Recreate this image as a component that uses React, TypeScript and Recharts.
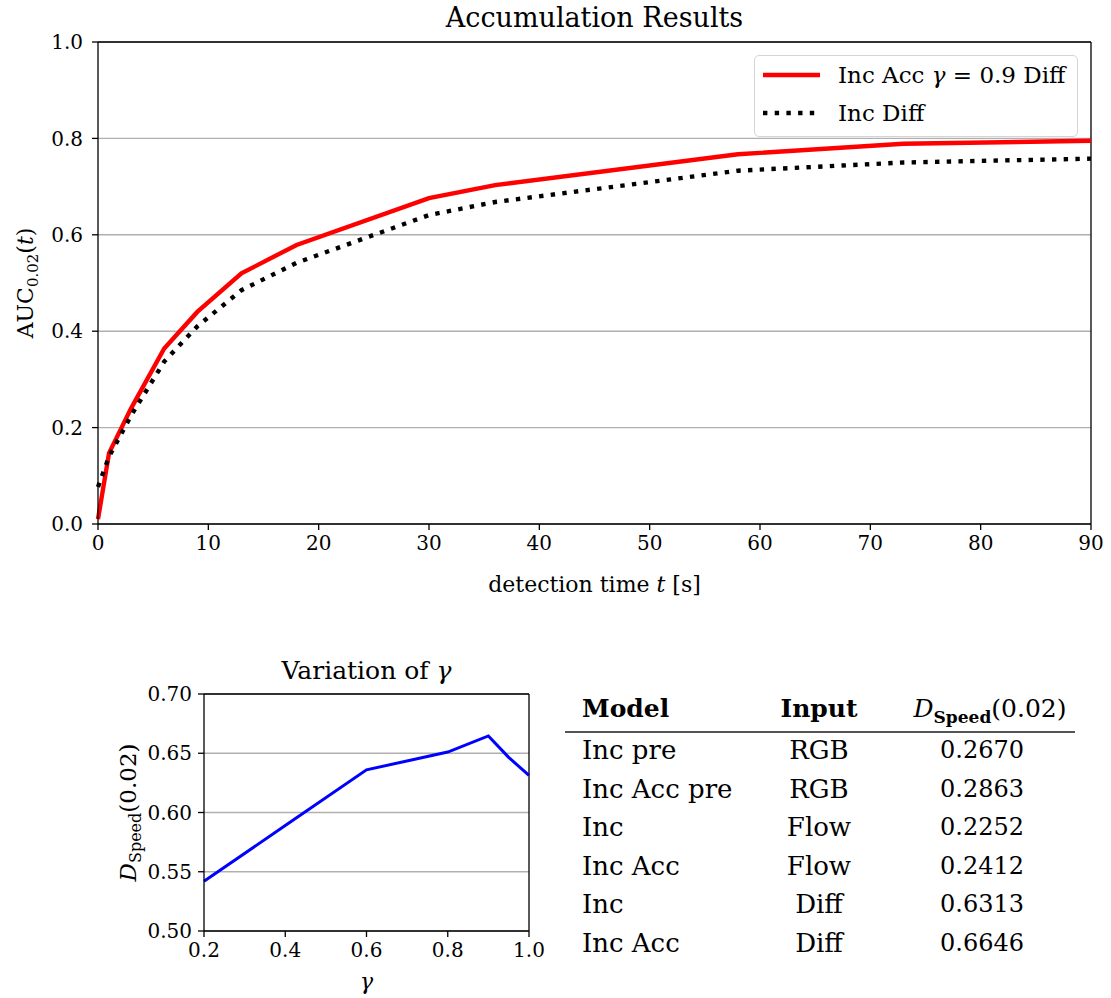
import React from 'react';
import {
  LineChart,
  Line,
  XAxis,
  YAxis,
  CartesianGrid,
  ReferenceLine,
  Legend,
} from 'recharts';

// ---- data: accumulation over detection time ----
const detectionTimes = [0, 1, 3, 6, 9, 13, 18, 30, 36, 58, 73, 90];
const incAccDiffAuc = [0.01, 0.147, 0.24, 0.364, 0.44, 0.52, 0.579, 0.676, 0.703, 0.767, 0.789, 0.795];
const incDiffAuc = [0.077, 0.14, 0.225, 0.337, 0.41, 0.485, 0.542, 0.641, 0.668, 0.733, 0.75, 0.758];
const aucTicks = [0, 0.2, 0.4, 0.6, 0.8, 1.0];
const timeTicks = [0, 10, 20, 30, 40, 50, 60, 70, 80, 90];

// ---- data: variation of gamma ----
const gammas = [0.2, 0.4, 0.6, 0.8, 0.9, 0.95, 1.0];
const dSpeedByGamma = [0.542, 0.589, 0.636, 0.651, 0.6646, 0.6465, 0.6313];
const gammaTicks = [0.2, 0.4, 0.6, 0.8, 1.0];
const dSpeedTicks = [0.5, 0.55, 0.6, 0.65, 0.7];

// ---- data: results table ----
const tableModels = ['Inc pre', 'Inc Acc pre', 'Inc', 'Inc Acc', 'Inc', 'Inc Acc'];
const tableInputs = ['RGB', 'RGB', 'Flow', 'Flow', 'Diff', 'Diff'];
const tableScores = ['0.2670', '0.2863', '0.2252', '0.2412', '0.6313', '0.6646'];

const accData = detectionTimes.map((t, i) => ({ t, incAcc: incAccDiffAuc[i], inc: incDiffAuc[i] }));
const gammaData = gammas.map((g, i) => ({ g, d: dSpeedByGamma[i] }));

const FONT = '"DejaVu Serif", serif';
const TICK_FS = 20;
const axisLine = { stroke: '#000', strokeWidth: 1.3 };
const tickLine = { stroke: '#000', strokeWidth: 1.3 };
const tickStyle = { fill: '#000', fontSize: TICK_FS, fontFamily: FONT };

const seriesStyle: Record<string, { dash?: string; label: React.ReactNode }> = {
  incAcc: {
    label: (
      <>
        Inc Acc <i>γ</i> = 0.9 Diff
      </>
    ),
  },
  inc: { dash: '4.4 7.3', label: <>Inc Diff</> },
};

function AccLegend(props: any) {
  const payload = props.payload || [];
  return (
    <div
      style={{
        width: 322,
        height: 80,
        border: '1.5px solid #d4d4d4',
        borderRadius: 5,
        background: 'rgba(255,255,255,0.85)',
        position: 'relative',
        fontFamily: FONT,
        fontSize: 23,
        color: '#000',
      }}
    >
      {payload.map((p: any, i: number) => {
        const st = seriesStyle[p.dataKey] || { label: p.value };
        return (
          <div key={i} style={{ position: 'absolute', left: 0, top: 4 + i * 38, height: 32, width: 320 }}>
            <svg width={66} height={32} style={{ position: 'absolute', left: 0, top: 0 }}>
              <line x1={8} x2={65} y1={15} y2={15} stroke={p.color} strokeWidth={4.4} strokeDasharray={st.dash} />
            </svg>
            <div style={{ position: 'absolute', left: 83, top: 1, whiteSpace: 'nowrap', lineHeight: '28px' }}>{st.label}</div>
          </div>
        );
      })}
    </div>
  );
}

function TimeLabel(props: any) {
  const vb = props.viewBox;
  return (
    <text x={vb.x + vb.width / 2} y={vb.y + 68} textAnchor="middle" fontFamily={FONT} fontSize={22} fill="#000">
      detection time <tspan fontStyle="italic">t</tspan> [s]
    </text>
  );
}

function AucLabel(props: any) {
  const vb = props.viewBox;
  const cx = 33;
  const cy = vb.y + vb.height / 2;
  return (
    <text x={cx} y={cy} transform={`rotate(-90, ${cx}, ${cy})`} textAnchor="middle" fontFamily={FONT} fontSize={22} fill="#000">
      AUC<tspan dy={5} fontSize={15}>0.02</tspan>
      <tspan dy={-5}>(</tspan>
      <tspan fontStyle="italic">t</tspan>)
    </text>
  );
}

function GammaLabel(props: any) {
  const vb = props.viewBox;
  return (
    <text x={vb.x + vb.width / 2} y={vb.y + 58} textAnchor="middle" fontFamily={FONT} fontSize={22} fontStyle="italic" fill="#000">
      γ
    </text>
  );
}

function DSpeedLabel(props: any) {
  const vb = props.viewBox;
  const cx = 136;
  const cy = vb.y + vb.height / 2;
  return (
    <text x={cx} y={cy} transform={`rotate(-90, ${cx}, ${cy})`} textAnchor="middle" fontFamily={FONT} fontSize={23} fill="#000">
      <tspan fontStyle="italic">D</tspan>
      <tspan dy={5} fontSize={16}>Speed</tspan>
      <tspan dy={-5}>(0.02)</tspan>
    </text>
  );
}

function ResultsTable() {
  const rowTop = 735;
  const rowH = 38.6;
  const cell = { position: 'absolute' as const, fontFamily: FONT, fontSize: 26, lineHeight: '30px', whiteSpace: 'nowrap' as const, color: '#000' };
  const num = { ...cell, fontSize: 24 };
  return (
    <>
      <div style={{ ...cell, left: 582, top: 694, fontWeight: 'bold', fontSize: 25 }}>Model</div>
      <div style={{ ...cell, left: 719, width: 200, top: 694, textAlign: 'center', fontWeight: 'bold', fontSize: 25 }}>Input</div>
      <div style={{ ...cell, left: 890, width: 200, top: 694, textAlign: 'center', fontSize: 25 }}>
        <i>D</i>
        <sub style={{ fontWeight: 'bold', fontSize: 17 }}>Speed</sub>(0.02)
      </div>
      <div style={{ position: 'absolute', left: 565, top: 731, width: 510, height: 2, background: '#555' }} />
      {tableModels.map((m, i) => (
        <React.Fragment key={i}>
          <div style={{ ...cell, left: 582, top: rowTop + i * rowH }}>{m}</div>
          <div style={{ ...cell, left: 719, width: 200, textAlign: 'center', top: rowTop + i * rowH }}>{tableInputs[i]}</div>
          <div style={{ ...num, left: 882, width: 200, textAlign: 'center', top: rowTop + i * rowH }}>{tableScores[i]}</div>
        </React.Fragment>
      ))}
    </>
  );
}

export default function App() {
  return (
    <div style={{ position: 'absolute', left: 0, top: 0, width: 1111, height: 998, background: '#fff', overflow: 'hidden' }}>
      <div style={{ position: 'absolute', left: 98, width: 993, top: 2, textAlign: 'center', fontFamily: FONT, fontSize: 27, lineHeight: '32px' }}>
        Accumulation Results
      </div>
      <div style={{ position: 'absolute', left: 0, top: 0 }}>
        <LineChart width={1111} height={620} data={accData} margin={{ top: 42, right: 20, left: 0, bottom: 36 }}>
          <CartesianGrid vertical={false} stroke="#b0b0b0" strokeWidth={1.4} />
          <XAxis
            dataKey="t"
            type="number"
            domain={[0, 90]}
            ticks={timeTicks}
            height={60}
            tickSize={6}
            tickMargin={6}
            axisLine={axisLine}
            tickLine={tickLine}
            tick={tickStyle}
            label={(p: any) => <TimeLabel {...p} />}
          />
          <YAxis
            type="number"
            domain={[0, 1]}
            ticks={aucTicks}
            tickFormatter={(v: number) => v.toFixed(1)}
            width={98}
            tickSize={6}
            tickMargin={9}
            axisLine={axisLine}
            tickLine={tickLine}
            tick={tickStyle}
            label={(p: any) => <AucLabel {...p} />}
          />
          <ReferenceLine y={1} stroke="#000" strokeWidth={1.3} />
          <ReferenceLine x={90} stroke="#000" strokeWidth={1.3} />
          <Line type="linear" dataKey="incAcc" name="Inc Acc γ = 0.9 Diff" stroke="#ff0000" strokeWidth={4.4} dot={false} isAnimationActive={false} />
          <Line type="linear" dataKey="inc" name="Inc Diff" stroke="#000000" strokeWidth={4.4} strokeDasharray="4.4 7.3" dot={false} isAnimationActive={false} />
          <Legend
            layout="vertical"
            align="center"
            verticalAlign="middle"
            content={(p: any) => <AccLegend {...p} />}
            wrapperStyle={{ position: 'absolute', left: 754, top: 55, width: 325 }}
          />
        </LineChart>
      </div>

      <div style={{ position: 'absolute', left: 204, width: 325, top: 656, textAlign: 'center', fontFamily: FONT, fontSize: 25, lineHeight: '30px' }}>
        Variation of <i>γ</i>
      </div>
      <div style={{ position: 'absolute', left: 0, top: 640 }}>
        <LineChart width={560} height={358} data={gammaData} margin={{ top: 54, right: 31, left: 0, bottom: 27 }}>
          <CartesianGrid vertical={false} stroke="#b0b0b0" strokeWidth={1.4} />
          <XAxis
            dataKey="g"
            type="number"
            domain={[0.2, 1]}
            ticks={gammaTicks}
            tickFormatter={(v: number) => v.toFixed(1)}
            height={40}
            tickSize={6}
            tickMargin={6}
            axisLine={axisLine}
            tickLine={tickLine}
            tick={tickStyle}
            label={(p: any) => <GammaLabel {...p} />}
          />
          <YAxis
            type="number"
            domain={[0.5, 0.7]}
            ticks={dSpeedTicks}
            tickFormatter={(v: number) => v.toFixed(2)}
            width={204}
            tickSize={6}
            tickMargin={6}
            axisLine={axisLine}
            tickLine={tickLine}
            tick={tickStyle}
            label={(p: any) => <DSpeedLabel {...p} />}
          />
          <ReferenceLine y={0.7} stroke="#000" strokeWidth={1.3} />
          <ReferenceLine x={1} stroke="#000" strokeWidth={1.3} />
          <Line type="linear" dataKey="d" stroke="#0000ff" strokeWidth={3} dot={false} isAnimationActive={false} />
        </LineChart>
      </div>

      <ResultsTable />
    </div>
  );
}
